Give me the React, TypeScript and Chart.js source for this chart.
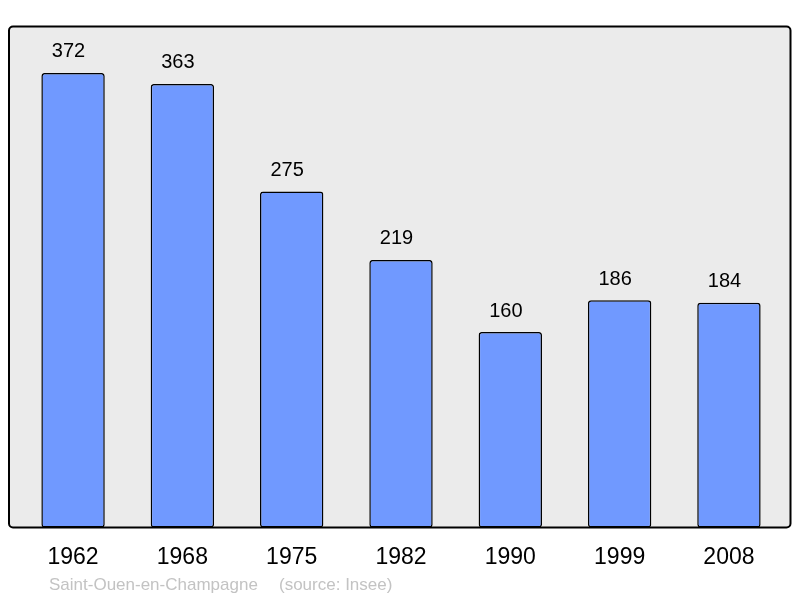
import React, { useEffect, useRef } from "react";
import { Chart, registerables } from "chart.js";

Chart.register(...registerables);

const years = ["1962", "1968", "1975", "1982", "1990", "1999", "2008"];
const population = [372, 363, 275, 219, 160, 186, 184];
const placeName = "Saint-Ouen-en-Champagne";
const sourceName = "(source: Insee)";

const FONT = "'Liberation Sans', Arial, sans-serif";

const panelPlugin = {
  id: "panel",
  beforeDraw(chart: any) {
    const { ctx, chartArea } = chart;
    const l = 9, t = chartArea.top, r = 790.5, b = chartArea.bottom;
    ctx.save();
    ctx.fillStyle = "#ebebeb";
    ctx.beginPath();
    ctx.roundRect(l, t, r - l, b - t, 4);
    ctx.fill();
    ctx.restore();
  },
  afterDatasetsDraw(chart: any) {
    const { ctx, chartArea } = chart;
    const l = 9, t = chartArea.top, r = 790.5, b = chartArea.bottom;
    ctx.save();
    ctx.strokeStyle = "#000";
    ctx.lineWidth = 2;
    ctx.beginPath();
    ctx.roundRect(l, t, r - l, b - t, 4);
    ctx.stroke();
    // value labels
    ctx.fillStyle = "#000";
    ctx.font = `20px ${FONT}`;
    ctx.textAlign = "center";
    ctx.textBaseline = "middle";
    const meta = chart.getDatasetMeta(0);
    meta.data.forEach((bar: any, i: number) => {
      ctx.fillText(String(population[i]), bar.x - 4.5, bar.y - 21);
    });
    // source
    ctx.fillStyle = "#c3c3c3";
    ctx.font = `17px ${FONT}`;
    ctx.textAlign = "left";
    ctx.fillText(placeName, 49, 585);
    ctx.fillText(sourceName, 279, 585);
    ctx.restore();
  },
};

export default function App() {
  const ref = useRef<HTMLCanvasElement | null>(null);
  useEffect(() => {
    if (!ref.current) return;
    const chart = new Chart(ref.current, {
      type: "bar",
      data: {
        labels: years,
        datasets: [
          {
            data: population,
            backgroundColor: "#7099ff",
            borderColor: "#000",
            borderWidth: 1.5,
            borderRadius: 3,
            borderSkipped: false,
            categoryPercentage: 1,
            barPercentage: 0.58,
          },
        ],
      },
      options: {
        responsive: false,
        animation: false,
        layout: { padding: { top: 26.5, left: 18.4, right: 16.4, bottom: 0 } },
        plugins: { legend: { display: false }, tooltip: { enabled: false } },
        scales: {
          x: {
            grid: { display: false },
            border: { display: false },
            ticks: { color: "#000", font: { size: 23, family: FONT }, padding: 8 },
            afterFit: (scale: any) => {
              scale.height = 70.5;
            },
          },
          y: { display: false, min: 0, max: 410 },
        },
      },
      plugins: [panelPlugin],
    });
    return () => chart.destroy();
  }, []);
  return (
    <canvas
      ref={ref}
      width={800}
      height={598}
      style={{ position: "absolute", left: 0, top: 0, display: "block" }}
    />
  );
}
